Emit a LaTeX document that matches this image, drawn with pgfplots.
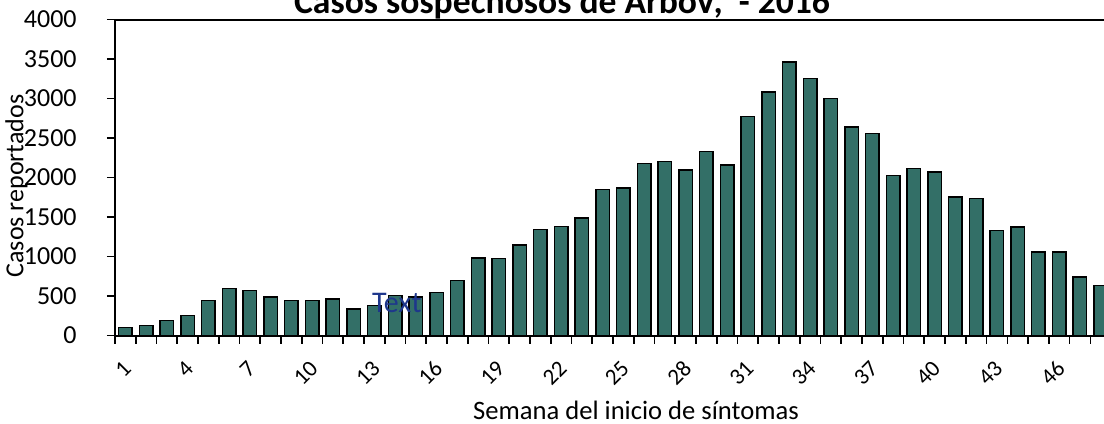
\documentclass[border=0pt]{standalone}
\usepackage{fontspec}
\setmainfont{Carlito}
\usepackage{pgfplots}
\pgfplotsset{compat=1.18}
\definecolor{barfill}{RGB}{51,111,103}
\definecolor{txtblue}{RGB}{30,55,140}
\begin{document}
\begin{tikzpicture}
\useasboundingbox (-57.5bp,-44.25bp) rectangle (494.5bp,167.75bp);
\clip (-57.5bp,-44.25bp) rectangle (494.5bp,167.75bp);
\begin{axis}[
  name=ax,
  at={(0,0)}, anchor=south west,
  scale only axis,
  width=494.5bp, height=158bp,
  xmin=0.5, xmax=48.16,
  ymin=0, ymax=4000,
  axis lines=left,
  axis line style={-, line width=1bp, black},
  tick align=outside,
  major tick length=0pt,
  minor tick length=4bp,
  tick style={line width=0.8bp, black},
  xtick={1,4,...,46},
  minor xtick={0.5,1.5,...,48.5},
  ytick={0,500,...,4000},
  minor ytick={0,500,...,4000},
  scaled y ticks=false,
  /pgf/number format/assume math mode=true,
  /pgf/number format/1000 sep={},
  xticklabel style={font=\fontsize{11.5bp}{13bp}\selectfont, inner sep=0pt, yshift=-14.5bp, xshift=1bp, rotate=45, anchor=east},
  yticklabel style={font=\fontsize{13bp}{15bp}\selectfont, inner sep=0pt, anchor=east, xshift=-19bp},
  xlabel={Semana del inicio de síntomas},
  ylabel={Casos reportados},
  every axis x label/.style={at={(axis description cs:0.5268,-0.267)}, anchor=base, font=\fontsize{13.3bp}{15bp}\selectfont, inner sep=0pt},
  every axis y label/.style={at={(axis description cs:-0.088,0.473)}, anchor=south, rotate=90, font=\fontsize{13bp}{15bp}\selectfont, inner sep=0pt},
  ybar, bar width=6.75bp,
]
\addplot[fill=barfill, draw=black, line width=0.75bp] coordinates {
(1,104) (2,129) (3,187) (4,256) (5,441) (6,593) (7,568) (8,487) (9,441) (10,441)
(11,462) (12,335) (13,377) (14,504) (15,487) (16,547) (17,694) (18,978) (19,975) (20,1143)
(21,1340) (22,1378) (23,1485) (24,1845) (25,1865) (26,2180) (27,2200) (28,2095) (29,2330) (30,2160)
(31,2770) (32,3082) (33,3462) (34,3251) (35,2998) (36,2639) (37,2555) (38,2028) (39,2112) (40,2070)
(41,1753) (42,1732) (43,1332) (44,1373) (45,1057) (46,1057) (47,741) (48,630)
};
\node[txtblue, font=\fontsize{15bp}{17bp}\selectfont, inner sep=0pt] at (axis cs:14.08,411) {Text};
\end{axis}
\draw[line width=1bp, black] (ax.north west) -- (ax.north east);
\node[anchor=base, font=\fontsize{17.8bp}{20bp}\selectfont\bfseries, inner sep=0pt] at (223.5bp,160.75bp) {Casos sospechosos de ArboV,\ \ - 2016};
\end{tikzpicture}
\end{document}
